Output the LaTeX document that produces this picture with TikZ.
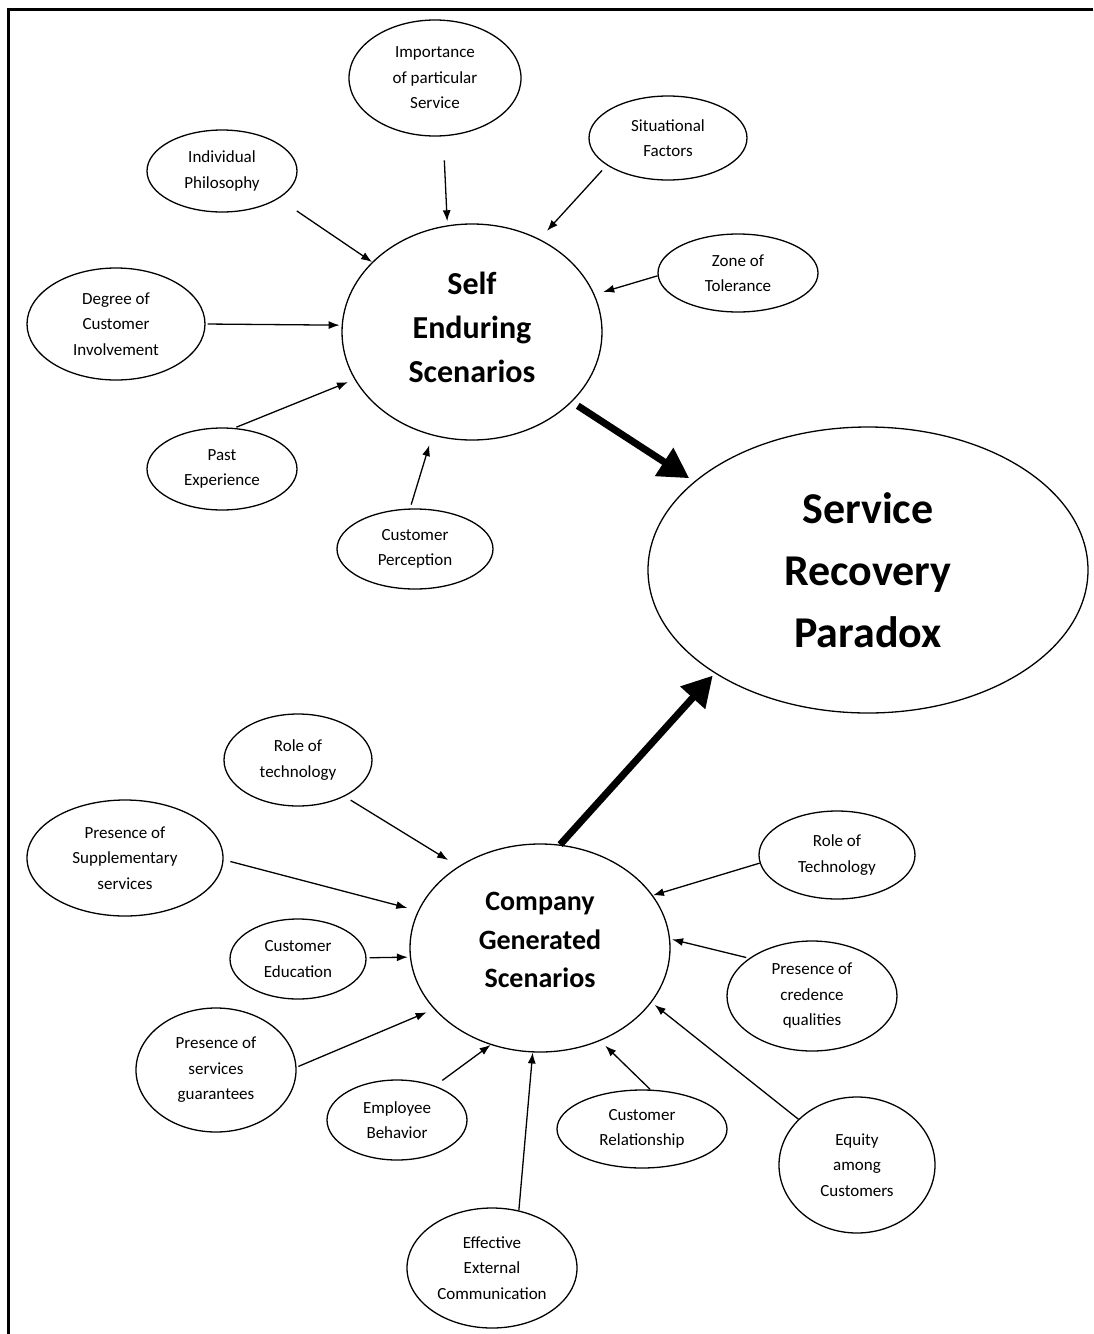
\documentclass[tikz,border=0pt]{standalone}
\usepackage{fontspec}
\setmainfont{Carlito}
\usetikzlibrary{positioning, arrows.meta, shapes}

\begin{document}
\begin{tikzpicture}[x=1pt, y=-1pt]
        \tikzstyle{factor} = [ellipse, draw=black, line width=1.3pt, inner sep=0pt,
          align=center, font=\fontsize{17}{25.5}\selectfont]
        \tikzstyle{hub} = [ellipse, draw=black, line width=1.3pt, inner sep=0pt,
          align=center, font=\bfseries\fontsize{32}{44}\selectfont]
        \tikzstyle{feed} = [-{Latex[length=11pt, width=8pt]}, line width=1.3pt]
        \tikzstyle{lead} = [-{Triangle[length=30pt, width=32pt]}, line width=7pt]

        \useasboundingbox (0,0) rectangle (1093,1334);
        \draw[line width=3pt] (8,1334) -- (8,9) -- (1093,9);

        % the three main scenarios
        \node[hub, minimum width=260, minimum height=216, text depth=10pt] (self) at (472,332) {Self\\Enduring\\Scenarios};
        \node[hub, minimum width=440, minimum height=286, font=\bfseries\fontsize{44}{62}\selectfont]
          (srp) at (868,570) {Service\\Recovery\\Paradox};
        \node[hub, minimum width=260, minimum height=208, text depth=16pt, font=\bfseries\fontsize{28}{38.5}\selectfont]
          (comp) at (540,948) {Company\\Generated\\Scenarios};

        % factors round the self enduring scenarios
        \node[factor, minimum width=172, minimum height=116] (imp) at (435,78) {Importance\\of particular\\Service};
        \node[factor, minimum width=158, minimum height=84] (sit) at (668,138) {Situational\\Factors};
        \node[factor, minimum width=150, minimum height=82] (ind) at (222,171) {Individual\\Philosophy};
        \node[factor, minimum width=160, minimum height=78] (zone) at (738,273) {Zone of\\Tolerance};
        \node[factor, minimum width=178, minimum height=112] (deg) at (116,324) {Degree of\\Customer\\Involvement};
        \node[factor, minimum width=150, minimum height=82] (past) at (222,469) {Past\\Experience};
        \node[factor, minimum width=156, minimum height=80] (perc) at (415,549) {Customer\\Perception};

        % factors round the company generated scenarios
        \node[factor, minimum width=148, minimum height=92] (rtl) at (298,760) {Role of\\technology};
        \node[factor, minimum width=196, minimum height=116] (sup) at (125,858) {Presence of\\Supplementary\\services};
        \node[factor, minimum width=136, minimum height=80] (edu) at (298,959) {Customer\\Education};
        \node[factor, minimum width=160, minimum height=124] (gua) at (216,1070) {Presence of\\services\\guarantees};
        \node[factor, minimum width=140, minimum height=80] (emp) at (397,1120) {Employee\\Behavior};
        \node[factor, minimum width=170, minimum height=120] (eff) at (492,1268) {Effective\\External\\Communication};
        \node[factor, minimum width=170, minimum height=78] (rel) at (642,1129) {Customer\\Relationship};
        \node[factor, minimum width=156, minimum height=136] (equ) at (857,1165) {Equity\\among\\Customers};
        \node[factor, minimum width=170, minimum height=110] (cred) at (812,996) {Presence of\\credence\\qualities};
        \node[factor, minimum width=156, minimum height=88] (rtr) at (837,855) {Role of\\Technology};

        % thin arrows: source/angle/target/angle/gap at start/gap at end
        \foreach \src/\a/\tgt/\b/\s/\e in {
            imp/-82/self/103/24/4, sit/204/self/54/7/11, ind/-26/self/145/22/0,
            zone/182/self/17/0/9, deg/0/self/177/2/2, past/73/self/202/2/7,
            perc/97/self/249/4/10,
            rtl/-38/comp/135/7/12, sup/-1/comp/163/7/11, edu/1/comp/184/3/2,
            gua/2/comp/210/2/8, emp/42/comp/243/9/0, eff/65/comp/266/0/0,
            rel/78/comp/-57/0/7, equ/142/comp/-26/0/4, cred/149/comp/4/3/2,
            rtr/186/comp/25/0/0}
          \draw[feed, shorten <=\s pt, shorten >=\e pt] (\src.\a) -- (\tgt.\b);

        % thick arrows into the paradox
        \draw[lead, shorten <=7pt, shorten >=6pt] (self.-35) -- (srp.153);
        \draw[lead, shorten >=3pt] (comp.79) -- (srp.214);
\end{tikzpicture}
\end{document}
